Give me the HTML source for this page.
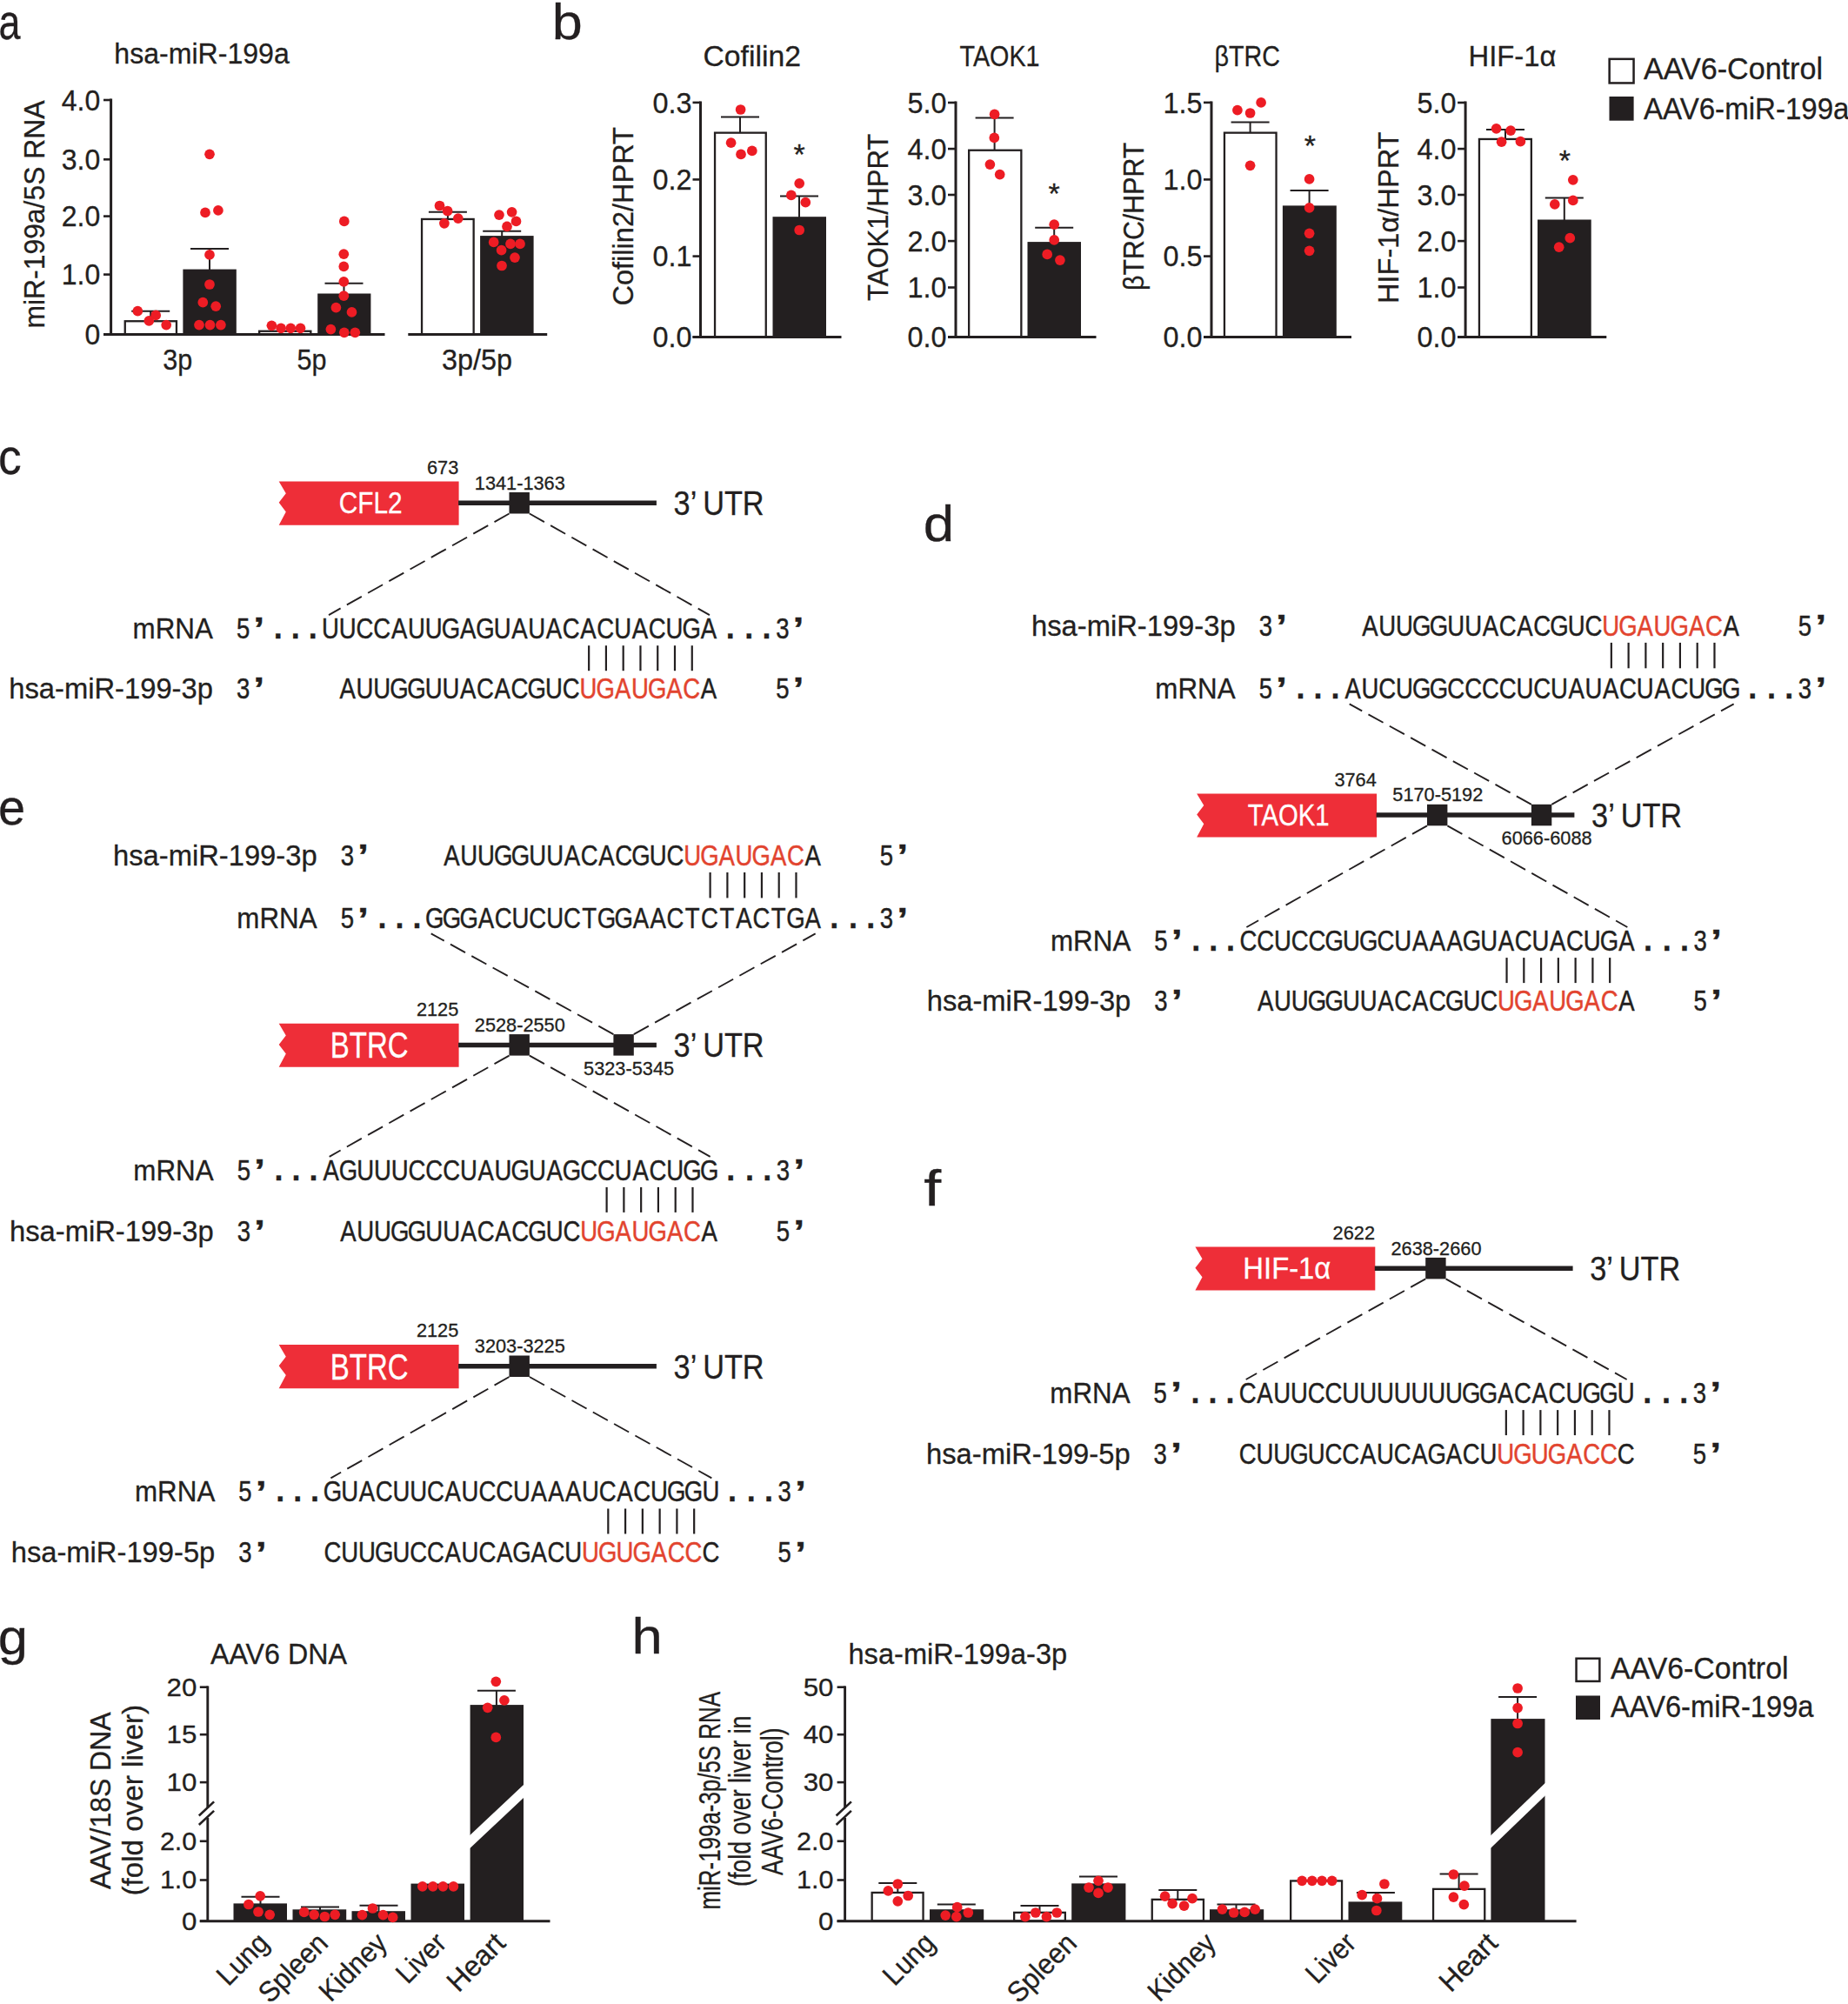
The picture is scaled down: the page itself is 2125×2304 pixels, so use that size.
<!DOCTYPE html>
<html lang="en"><head><meta charset="utf-8"><title>Figure</title>
<style>
html,body{margin:0;padding:0;background:#fff}
body{width:2125px;height:2304px;overflow:hidden}
svg{display:block}
text{font-family:"Liberation Sans", sans-serif;fill:#231f20;stroke:#231f20;stroke-width:.3px}
</style></head><body>
<svg width="2125" height="2304" viewBox="0 0 2125 2304">
<text x="-1.58" y="44.5" font-size="57" textLength="24.94" lengthAdjust="spacingAndGlyphs">a</text>
<text x="131.3" y="72.8" font-size="34" textLength="201.5" lengthAdjust="spacingAndGlyphs">hsa-miR-199a</text>
<line x1="127.6" y1="113.6" x2="127.6" y2="385.8" stroke="#231f20" stroke-width="3"/>
<line x1="119" y1="115" x2="127.6" y2="115" stroke="#231f20" stroke-width="2.6"/>
<text x="70.8" y="126.7" font-size="34" textLength="44.5" lengthAdjust="spacingAndGlyphs">4.0</text>
<line x1="119" y1="183.3" x2="127.6" y2="183.3" stroke="#231f20" stroke-width="2.6"/>
<text x="70.8" y="195" font-size="34" textLength="44.5" lengthAdjust="spacingAndGlyphs">3.0</text>
<line x1="119" y1="248.6" x2="127.6" y2="248.6" stroke="#231f20" stroke-width="2.6"/>
<text x="70.8" y="260.3" font-size="34" textLength="44.5" lengthAdjust="spacingAndGlyphs">2.0</text>
<line x1="119" y1="315.6" x2="127.6" y2="315.6" stroke="#231f20" stroke-width="2.6"/>
<text x="70.8" y="327.3" font-size="34" textLength="44.5" lengthAdjust="spacingAndGlyphs">1.0</text>
<line x1="119" y1="384.4" x2="127.6" y2="384.4" stroke="#231f20" stroke-width="2.6"/>
<text x="97.5" y="396.1" font-size="34" textLength="17.8" lengthAdjust="spacingAndGlyphs">0</text>
<rect x="143.75" y="369.25" width="59.2" height="15" fill="#fff" stroke="#231f20" stroke-width="2.3"/>
<rect x="210.4" y="309.6" width="61.4" height="75.8" fill="#231f20"/>
<rect x="298.15" y="380.75" width="59.2" height="3.5" fill="#fff" stroke="#231f20" stroke-width="2.3"/>
<rect x="365.2" y="337.5" width="61.2" height="47.9" fill="#231f20"/>
<rect x="485.05" y="251.95" width="59.6" height="132.3" fill="#fff" stroke="#231f20" stroke-width="2.3"/>
<rect x="552.1" y="271.1" width="61.5" height="114.3" fill="#231f20"/>
<line x1="119" y1="384.4" x2="442.5" y2="384.4" stroke="#231f20" stroke-width="3"/>
<line x1="469.3" y1="384.4" x2="629.2" y2="384.4" stroke="#231f20" stroke-width="3"/>
<line x1="151.2" y1="357.7" x2="195.2" y2="357.7" stroke="#231f20" stroke-width="2"/>
<line x1="173.2" y1="357.7" x2="173.2" y2="368.1" stroke="#231f20" stroke-width="2"/>
<line x1="219" y1="286" x2="263" y2="286" stroke="#231f20" stroke-width="2"/>
<line x1="241" y1="286" x2="241" y2="310" stroke="#231f20" stroke-width="2"/>
<line x1="373.5" y1="325.8" x2="417.5" y2="325.8" stroke="#231f20" stroke-width="2"/>
<line x1="395.5" y1="325.8" x2="395.5" y2="338" stroke="#231f20" stroke-width="2"/>
<line x1="492.9" y1="243.8" x2="536.9" y2="243.8" stroke="#231f20" stroke-width="2"/>
<line x1="514.9" y1="243.8" x2="514.9" y2="251" stroke="#231f20" stroke-width="2"/>
<line x1="555.2" y1="265.7" x2="599.2" y2="265.7" stroke="#231f20" stroke-width="2"/>
<line x1="577.2" y1="265.7" x2="577.2" y2="272" stroke="#231f20" stroke-width="2"/>
<g fill="#ed1c24"><circle cx="158.3" cy="357.7" r="5.85"/><circle cx="179.2" cy="362.4" r="5.85"/><circle cx="171.3" cy="368.9" r="5.85"/><circle cx="191.2" cy="373.6" r="5.85"/></g>
<g fill="#ed1c24"><circle cx="241" cy="177.3" r="5.85"/><circle cx="236" cy="244.4" r="5.85"/><circle cx="250.9" cy="241.9" r="5.85"/><circle cx="241" cy="292.9" r="5.85"/><circle cx="241" cy="327" r="5.85"/><circle cx="233.3" cy="347.7" r="5.85"/><circle cx="248.2" cy="352.2" r="5.85"/><circle cx="229" cy="373.6" r="5.85"/><circle cx="241.5" cy="373.6" r="5.85"/><circle cx="253.9" cy="373.6" r="5.85"/></g>
<g fill="#ed1c24"><circle cx="312.4" cy="374.3" r="5.85"/><circle cx="323.1" cy="377.3" r="5.85"/><circle cx="334.3" cy="377.3" r="5.85"/><circle cx="345.5" cy="377.3" r="5.85"/></g>
<g fill="#ed1c24"><circle cx="395.8" cy="254.4" r="5.85"/><circle cx="395.3" cy="292.2" r="5.85"/><circle cx="395.3" cy="306.4" r="5.85"/><circle cx="395.3" cy="323.8" r="5.85"/><circle cx="395.3" cy="340.2" r="5.85"/><circle cx="386.4" cy="353.7" r="5.85"/><circle cx="404.5" cy="358.9" r="5.85"/><circle cx="380.4" cy="378.6" r="5.85"/><circle cx="395.8" cy="382.3" r="5.85"/><circle cx="408.3" cy="382.3" r="5.85"/></g>
<g fill="#ed1c24"><circle cx="505.5" cy="236.5" r="5.85"/><circle cx="514.6" cy="242.5" r="5.85"/><circle cx="526.8" cy="251.1" r="5.85"/><circle cx="510.9" cy="256.8" r="5.85"/></g>
<g fill="#ed1c24"><circle cx="574" cy="247.1" r="5.85"/><circle cx="588.6" cy="243.8" r="5.85"/><circle cx="593.5" cy="254.4" r="5.85"/><circle cx="583" cy="260.4" r="5.85"/><circle cx="567.7" cy="278.4" r="5.85"/><circle cx="587" cy="280.4" r="5.85"/><circle cx="598" cy="280.4" r="5.85"/><circle cx="576.6" cy="287.7" r="5.85"/><circle cx="592" cy="296.1" r="5.85"/><circle cx="577" cy="305.5" r="5.85"/></g>
<text x="187.2" y="424.8" font-size="34" textLength="34" lengthAdjust="spacingAndGlyphs">3p</text>
<text x="341.5" y="424.8" font-size="34" textLength="34" lengthAdjust="spacingAndGlyphs">5p</text>
<text x="508" y="425.4" font-size="34" textLength="81" lengthAdjust="spacingAndGlyphs">3p/5p</text>
<text x="0" y="0" font-size="34" textLength="262" lengthAdjust="spacingAndGlyphs" transform="translate(51 377.5) rotate(-90)">miR-199a/5S RNA</text>
<text x="634.81" y="45" font-size="57" textLength="35.01" lengthAdjust="spacingAndGlyphs">b</text>
<text x="808.5" y="75.8" font-size="34" textLength="112.5" lengthAdjust="spacingAndGlyphs">Cofilin2</text>
<line x1="805.5" y1="116.6" x2="805.5" y2="388.8" stroke="#231f20" stroke-width="3"/>
<line x1="796.5" y1="117.9" x2="805.5" y2="117.9" stroke="#231f20" stroke-width="2.6"/>
<text x="750.6" y="129.5" font-size="34" textLength="45" lengthAdjust="spacingAndGlyphs">0.3</text>
<line x1="796.5" y1="206.4" x2="805.5" y2="206.4" stroke="#231f20" stroke-width="2.6"/>
<text x="750.6" y="218" font-size="34" textLength="45" lengthAdjust="spacingAndGlyphs">0.2</text>
<line x1="796.5" y1="294.6" x2="805.5" y2="294.6" stroke="#231f20" stroke-width="2.6"/>
<text x="750.6" y="306.2" font-size="34" textLength="45" lengthAdjust="spacingAndGlyphs">0.1</text>
<line x1="796.5" y1="387.4" x2="805.5" y2="387.4" stroke="#231f20" stroke-width="2.6"/>
<text x="750.6" y="399" font-size="34" textLength="45" lengthAdjust="spacingAndGlyphs">0.0</text>
<rect x="822.05" y="152.65" width="58.7" height="234.6" fill="#fff" stroke="#231f20" stroke-width="2.3"/>
<rect x="888.5" y="249.2" width="61.5" height="139.2" fill="#231f20"/>
<line x1="796.5" y1="387.4" x2="967.5" y2="387.4" stroke="#231f20" stroke-width="3"/>
<line x1="829" y1="134.4" x2="873" y2="134.4" stroke="#231f20" stroke-width="2"/>
<line x1="851" y1="134.4" x2="851" y2="152.5" stroke="#231f20" stroke-width="2"/>
<line x1="897" y1="225.5" x2="941" y2="225.5" stroke="#231f20" stroke-width="2"/>
<line x1="919" y1="225.5" x2="919" y2="250.2" stroke="#231f20" stroke-width="2"/>
<g fill="#ed1c24"><circle cx="851.6" cy="126" r="5.85"/><circle cx="840.6" cy="164.2" r="5.85"/><circle cx="852" cy="177.4" r="5.85"/><circle cx="864.8" cy="173.4" r="5.85"/></g>
<g fill="#ed1c24"><circle cx="919.2" cy="210.8" r="5.85"/><circle cx="909.8" cy="224.4" r="5.85"/><circle cx="926.3" cy="232.7" r="5.85"/><circle cx="919.2" cy="264.5" r="5.85"/></g>
<text x="919" y="189" font-size="34" text-anchor="middle">*</text>
<text x="0" y="0" font-size="34" textLength="205.5" lengthAdjust="spacingAndGlyphs" transform="translate(727.6 351.5) rotate(-90)">Cofilin2/HPRT</text>
<text x="1103.5" y="75.8" font-size="34" textLength="92" lengthAdjust="spacingAndGlyphs">TAOK1</text>
<line x1="1099" y1="116.6" x2="1099" y2="388.8" stroke="#231f20" stroke-width="3"/>
<line x1="1090" y1="118" x2="1099" y2="118" stroke="#231f20" stroke-width="2.6"/>
<text x="1043.5" y="129.6" font-size="34" textLength="45" lengthAdjust="spacingAndGlyphs">5.0</text>
<line x1="1090" y1="171.1" x2="1099" y2="171.1" stroke="#231f20" stroke-width="2.6"/>
<text x="1043.5" y="182.7" font-size="34" textLength="45" lengthAdjust="spacingAndGlyphs">4.0</text>
<line x1="1090" y1="224" x2="1099" y2="224" stroke="#231f20" stroke-width="2.6"/>
<text x="1043.5" y="235.6" font-size="34" textLength="45" lengthAdjust="spacingAndGlyphs">3.0</text>
<line x1="1090" y1="277.1" x2="1099" y2="277.1" stroke="#231f20" stroke-width="2.6"/>
<text x="1043.5" y="288.7" font-size="34" textLength="45" lengthAdjust="spacingAndGlyphs">2.0</text>
<line x1="1090" y1="330.5" x2="1099" y2="330.5" stroke="#231f20" stroke-width="2.6"/>
<text x="1043.5" y="342.1" font-size="34" textLength="45" lengthAdjust="spacingAndGlyphs">1.0</text>
<line x1="1090" y1="387.4" x2="1099" y2="387.4" stroke="#231f20" stroke-width="2.6"/>
<text x="1043.5" y="399" font-size="34" textLength="45" lengthAdjust="spacingAndGlyphs">0.0</text>
<rect x="1114.15" y="172.75" width="60.2" height="214.5" fill="#fff" stroke="#231f20" stroke-width="2.3"/>
<rect x="1181.5" y="278.1" width="61.5" height="110.3" fill="#231f20"/>
<line x1="1090" y1="387.4" x2="1260.5" y2="387.4" stroke="#231f20" stroke-width="3"/>
<line x1="1121.6" y1="135.6" x2="1165.6" y2="135.6" stroke="#231f20" stroke-width="2"/>
<line x1="1143.6" y1="135.6" x2="1143.6" y2="172.6" stroke="#231f20" stroke-width="2"/>
<line x1="1190.2" y1="261.7" x2="1234.2" y2="261.7" stroke="#231f20" stroke-width="2"/>
<line x1="1212.2" y1="261.7" x2="1212.2" y2="279.1" stroke="#231f20" stroke-width="2"/>
<g fill="#ed1c24"><circle cx="1143.6" cy="131.4" r="5.85"/><circle cx="1143.3" cy="158.4" r="5.85"/><circle cx="1138.4" cy="189.1" r="5.85"/><circle cx="1149.7" cy="200.6" r="5.85"/></g>
<g fill="#ed1c24"><circle cx="1212.2" cy="258.2" r="5.85"/><circle cx="1212.2" cy="275.9" r="5.85"/><circle cx="1204.2" cy="292.4" r="5.85"/><circle cx="1218.9" cy="299.1" r="5.85"/></g>
<text x="1212.2" y="233.5" font-size="34" text-anchor="middle">*</text>
<text x="0" y="0" font-size="34" textLength="192.3" lengthAdjust="spacingAndGlyphs" transform="translate(1020.6 346) rotate(-90)">TAOK1/HPRT</text>
<text x="1396.5" y="75.8" font-size="34" textLength="75.5" lengthAdjust="spacingAndGlyphs">βTRC</text>
<line x1="1393" y1="116.6" x2="1393" y2="388.8" stroke="#231f20" stroke-width="3"/>
<line x1="1384" y1="117.9" x2="1393" y2="117.9" stroke="#231f20" stroke-width="2.6"/>
<text x="1337.5" y="129.5" font-size="34" textLength="45" lengthAdjust="spacingAndGlyphs">1.5</text>
<line x1="1384" y1="206.4" x2="1393" y2="206.4" stroke="#231f20" stroke-width="2.6"/>
<text x="1337.5" y="218" font-size="34" textLength="45" lengthAdjust="spacingAndGlyphs">1.0</text>
<line x1="1384" y1="294.6" x2="1393" y2="294.6" stroke="#231f20" stroke-width="2.6"/>
<text x="1337.5" y="306.2" font-size="34" textLength="45" lengthAdjust="spacingAndGlyphs">0.5</text>
<line x1="1384" y1="387.4" x2="1393" y2="387.4" stroke="#231f20" stroke-width="2.6"/>
<text x="1337.5" y="399" font-size="34" textLength="45" lengthAdjust="spacingAndGlyphs">0.0</text>
<rect x="1407.95" y="152.65" width="59.6" height="234.6" fill="#fff" stroke="#231f20" stroke-width="2.3"/>
<rect x="1474.9" y="236.4" width="61.9" height="152" fill="#231f20"/>
<line x1="1384" y1="387.4" x2="1554" y2="387.4" stroke="#231f20" stroke-width="3"/>
<line x1="1415.6" y1="140.5" x2="1459.6" y2="140.5" stroke="#231f20" stroke-width="2"/>
<line x1="1437.6" y1="140.5" x2="1437.6" y2="152.5" stroke="#231f20" stroke-width="2"/>
<line x1="1483.6" y1="218.9" x2="1527.6" y2="218.9" stroke="#231f20" stroke-width="2"/>
<line x1="1505.6" y1="218.9" x2="1505.6" y2="237.4" stroke="#231f20" stroke-width="2"/>
<g fill="#ed1c24"><circle cx="1422.9" cy="126.7" r="5.85"/><circle cx="1437.6" cy="130" r="5.85"/><circle cx="1450.1" cy="117.9" r="5.85"/><circle cx="1437.6" cy="190.3" r="5.85"/></g>
<g fill="#ed1c24"><circle cx="1505.6" cy="205.9" r="5.85"/><circle cx="1505.6" cy="238.9" r="5.85"/><circle cx="1505.6" cy="268.3" r="5.85"/><circle cx="1505.6" cy="288.3" r="5.85"/></g>
<text x="1506.3" y="179.2" font-size="34" text-anchor="middle">*</text>
<text x="0" y="0" font-size="34" textLength="170.4" lengthAdjust="spacingAndGlyphs" transform="translate(1314.8 334) rotate(-90)">βTRC/HPRT</text>
<text x="1688.5" y="75.8" font-size="34" textLength="101" lengthAdjust="spacingAndGlyphs">HIF-1α</text>
<line x1="1685.1" y1="116.6" x2="1685.1" y2="388.8" stroke="#231f20" stroke-width="3"/>
<line x1="1676.1" y1="118" x2="1685.1" y2="118" stroke="#231f20" stroke-width="2.6"/>
<text x="1629.5" y="129.6" font-size="34" textLength="45" lengthAdjust="spacingAndGlyphs">5.0</text>
<line x1="1676.1" y1="171.1" x2="1685.1" y2="171.1" stroke="#231f20" stroke-width="2.6"/>
<text x="1629.5" y="182.7" font-size="34" textLength="45" lengthAdjust="spacingAndGlyphs">4.0</text>
<line x1="1676.1" y1="224" x2="1685.1" y2="224" stroke="#231f20" stroke-width="2.6"/>
<text x="1629.5" y="235.6" font-size="34" textLength="45" lengthAdjust="spacingAndGlyphs">3.0</text>
<line x1="1676.1" y1="277.1" x2="1685.1" y2="277.1" stroke="#231f20" stroke-width="2.6"/>
<text x="1629.5" y="288.7" font-size="34" textLength="45" lengthAdjust="spacingAndGlyphs">2.0</text>
<line x1="1676.1" y1="330.5" x2="1685.1" y2="330.5" stroke="#231f20" stroke-width="2.6"/>
<text x="1629.5" y="342.1" font-size="34" textLength="45" lengthAdjust="spacingAndGlyphs">1.0</text>
<line x1="1676.1" y1="387.4" x2="1685.1" y2="387.4" stroke="#231f20" stroke-width="2.6"/>
<text x="1629.5" y="399" font-size="34" textLength="45" lengthAdjust="spacingAndGlyphs">0.0</text>
<rect x="1700.95" y="159.95" width="59.9" height="227.3" fill="#fff" stroke="#231f20" stroke-width="2.3"/>
<rect x="1768" y="252.5" width="61.7" height="135.9" fill="#231f20"/>
<line x1="1676.1" y1="387.4" x2="1847.3" y2="387.4" stroke="#231f20" stroke-width="3"/>
<line x1="1709" y1="149" x2="1753" y2="149" stroke="#231f20" stroke-width="2"/>
<line x1="1731" y1="149" x2="1731" y2="159.8" stroke="#231f20" stroke-width="2"/>
<line x1="1776.8" y1="227.5" x2="1820.8" y2="227.5" stroke="#231f20" stroke-width="2"/>
<line x1="1798.8" y1="227.5" x2="1798.8" y2="253.5" stroke="#231f20" stroke-width="2"/>
<g fill="#ed1c24"><circle cx="1720.6" cy="147.8" r="5.85"/><circle cx="1737.1" cy="150.1" r="5.85"/><circle cx="1726.6" cy="163.2" r="5.85"/><circle cx="1748.4" cy="162.7" r="5.85"/></g>
<g fill="#ed1c24"><circle cx="1808.8" cy="206.8" r="5.85"/><circle cx="1808.8" cy="230.4" r="5.85"/><circle cx="1787.8" cy="234.9" r="5.85"/><circle cx="1805.3" cy="273.7" r="5.85"/><circle cx="1792.7" cy="284.2" r="5.85"/></g>
<text x="1799.3" y="195.6" font-size="34" text-anchor="middle">*</text>
<text x="0" y="0" font-size="34" textLength="197.5" lengthAdjust="spacingAndGlyphs" transform="translate(1607.7 349) rotate(-90)">HIF-1α/HPRT</text>
<rect x="1850.65" y="67.85" width="27.9" height="27.6" fill="#fff" stroke="#231f20" stroke-width="2.5"/>
<rect x="1850.5" y="111" width="28.1" height="27.7" fill="#231f20"/>
<text x="1890" y="90.8" font-size="34.5" textLength="206" lengthAdjust="spacingAndGlyphs">AAV6-Control</text>
<text x="1890" y="136.5" font-size="34.5" textLength="236.5" lengthAdjust="spacingAndGlyphs">AAV6-miR-199a</text>
<text x="-1.94" y="545.2" font-size="57" textLength="26.68" lengthAdjust="spacingAndGlyphs">c</text>
<polygon points="320.7,553.6 527.6,553.6 527.6,603.7 320.7,603.7 328.8,588.4 320.7,577.8 328.8,567.3" fill="#ee2e38"/>
<text x="426.15" y="589.8" font-size="35.5" text-anchor="middle" textLength="73" lengthAdjust="spacingAndGlyphs" style="fill:#fff;stroke:#fff">CFL2</text>
<line x1="527.1" y1="578.3" x2="754.9" y2="578.3" stroke="#231f20" stroke-width="5.5"/>
<rect x="585.5" y="566" width="23.4" height="24.5" fill="#231f20"/>
<text x="527.3" y="544.9" font-size="22" text-anchor="end" textLength="36.3" lengthAdjust="spacingAndGlyphs">673</text>
<text x="597.8" y="562.6" font-size="22" text-anchor="middle" textLength="104" lengthAdjust="spacingAndGlyphs">1341-1363</text>
<text x="774.6" y="592" font-size="38" textLength="104" lengthAdjust="spacingAndGlyphs">3’ UTR</text>
<text x="244.9" y="734.1" font-size="32.8" text-anchor="end" textLength="92.3" lengthAdjust="spacingAndGlyphs">mRNA</text>
<text transform="scale(0.84 1)" x="332.86" y="734.1" font-size="32.8" text-anchor="middle" style="stroke-width:.45px">5</text>
<text x="297.8" y="736.4" font-size="37" text-anchor="middle" textLength="13" lengthAdjust="spacingAndGlyphs" font-weight="bold">’</text>
<text x="319.8 339.8 359.7" y="734.1" font-size="36" font-weight="bold" text-anchor="middle">...</text>
<text transform="scale(0.84 1)" x="452.38 475.92 499.45 522.99 546.52 570.06 593.6 617.13 640.67 664.2 687.74 711.27 734.81 758.35 781.88 805.42 828.95 852.49 876.02 899.56 923.1 946.63 970.17" y="734.1" font-size="32.8" text-anchor="middle" style="stroke-width:.45px">UUCCAUUGAGUAUACACUACUGA</text>
<text x="839.64 861.24 881.54" y="734.1" font-size="36" font-weight="bold" text-anchor="middle">...</text>
<text transform="scale(0.84 1)" x="1071.24" y="734.1" font-size="32.8" text-anchor="middle" style="stroke-width:.45px">3</text>
<text x="918.04" y="736.4" font-size="37" text-anchor="middle" textLength="13" lengthAdjust="spacingAndGlyphs" font-weight="bold">’</text>
<text x="244.9" y="803.1" font-size="32.8" text-anchor="end" textLength="234.6" lengthAdjust="spacingAndGlyphs">hsa-miR-199-3p</text>
<text transform="scale(0.84 1)" x="332.86" y="803.1" font-size="32.8" text-anchor="middle" style="stroke-width:.45px">3</text>
<text x="297.8" y="805.4" font-size="37" text-anchor="middle" textLength="13" lengthAdjust="spacingAndGlyphs" font-weight="bold">’</text>
<text transform="scale(0.84 1)" x="475.92 499.45 522.99 546.52 570.06 593.6 617.13 640.67 664.2 687.74 711.27 734.81 758.35 781.88" y="803.1" font-size="32.8" text-anchor="middle" style="stroke-width:.45px">AUUGGUUACACGUC</text>
<text transform="scale(0.84 1)" x="805.42 828.95 852.49 876.02 899.56 923.1 946.63" y="803.1" font-size="32.8" text-anchor="middle" style="fill:#e2442f;stroke:#e2442f;stroke-width:.45px">UGAUGAC</text>
<text transform="scale(0.84 1)" x="970.17" y="803.1" font-size="32.8" text-anchor="middle" style="stroke-width:.45px">A</text>
<text transform="scale(0.84 1)" x="1071.24" y="803.1" font-size="32.8" text-anchor="middle" style="stroke-width:.45px">5</text>
<text x="918.04" y="805.4" font-size="37" text-anchor="middle" textLength="13" lengthAdjust="spacingAndGlyphs" font-weight="bold">’</text>
<line x1="677.15" y1="742.2" x2="677.15" y2="771.2" stroke="#231f20" stroke-width="2.2"/>
<line x1="696.92" y1="742.2" x2="696.92" y2="771.2" stroke="#231f20" stroke-width="2.2"/>
<line x1="716.69" y1="742.2" x2="716.69" y2="771.2" stroke="#231f20" stroke-width="2.2"/>
<line x1="736.46" y1="742.2" x2="736.46" y2="771.2" stroke="#231f20" stroke-width="2.2"/>
<line x1="756.23" y1="742.2" x2="756.23" y2="771.2" stroke="#231f20" stroke-width="2.2"/>
<line x1="776" y1="742.2" x2="776" y2="771.2" stroke="#231f20" stroke-width="2.2"/>
<line x1="795.77" y1="742.2" x2="795.77" y2="771.2" stroke="#231f20" stroke-width="2.2"/>
<line x1="585.5" y1="590.5" x2="378" y2="707.1" stroke="#231f20" stroke-width="1.9" stroke-dasharray="19.5 8.3"/>
<line x1="608.9" y1="590.5" x2="815.94" y2="707.1" stroke="#231f20" stroke-width="1.9" stroke-dasharray="19.5 8.3"/>
<text x="1061.72" y="622.4" font-size="57" textLength="35.43" lengthAdjust="spacingAndGlyphs">d</text>
<polygon points="1376.2,912.4 1583.1,912.4 1583.1,962.5 1376.2,962.5 1384.3,947.2 1376.2,936.6 1384.3,926.1" fill="#ee2e38"/>
<text x="1481.65" y="948.6" font-size="35.5" text-anchor="middle" textLength="94" lengthAdjust="spacingAndGlyphs" style="fill:#fff;stroke:#fff">TAOK1</text>
<line x1="1582.6" y1="937.1" x2="1810.4" y2="937.1" stroke="#231f20" stroke-width="5.5"/>
<rect x="1641" y="924.8" width="23.4" height="24.5" fill="#231f20"/>
<rect x="1760.9" y="924.8" width="23.4" height="24.5" fill="#231f20"/>
<text x="1582.8" y="903.7" font-size="22" text-anchor="end" textLength="48.4" lengthAdjust="spacingAndGlyphs">3764</text>
<text x="1653.3" y="921.4" font-size="22" text-anchor="middle" textLength="104" lengthAdjust="spacingAndGlyphs">5170-5192</text>
<text x="1778.6" y="971.4" font-size="22" text-anchor="middle" textLength="104" lengthAdjust="spacingAndGlyphs">6066-6088</text>
<text x="1830.1" y="950.8" font-size="38" textLength="104" lengthAdjust="spacingAndGlyphs">3’ UTR</text>
<text x="1420.6" y="730.8" font-size="32.8" text-anchor="end" textLength="234.6" lengthAdjust="spacingAndGlyphs">hsa-miR-199-3p</text>
<text transform="scale(0.84 1)" x="1732.5" y="730.8" font-size="32.8" text-anchor="middle" style="stroke-width:.45px">3</text>
<text x="1473.5" y="733.1" font-size="37" text-anchor="middle" textLength="13" lengthAdjust="spacingAndGlyphs" font-weight="bold">’</text>
<text transform="scale(0.84 1)" x="1875.56 1899.1 1922.63 1946.17 1969.7 1993.24 2016.77 2040.31 2063.85 2087.38 2110.92 2134.45 2157.99 2181.52" y="730.8" font-size="32.8" text-anchor="middle" style="stroke-width:.45px">AUUGGUUACACGUC</text>
<text transform="scale(0.84 1)" x="2205.06 2228.6 2252.13 2275.67 2299.2 2322.74 2346.27" y="730.8" font-size="32.8" text-anchor="middle" style="fill:#e2442f;stroke:#e2442f;stroke-width:.45px">UGAUGAC</text>
<text transform="scale(0.84 1)" x="2369.81" y="730.8" font-size="32.8" text-anchor="middle" style="stroke-width:.45px">A</text>
<text transform="scale(0.84 1)" x="2470.88" y="730.8" font-size="32.8" text-anchor="middle" style="stroke-width:.45px">5</text>
<text x="2093.74" y="733.1" font-size="37" text-anchor="middle" textLength="13" lengthAdjust="spacingAndGlyphs" font-weight="bold">’</text>
<text x="1420.6" y="803.1" font-size="32.8" text-anchor="end" textLength="92.3" lengthAdjust="spacingAndGlyphs">mRNA</text>
<text transform="scale(0.84 1)" x="1732.5" y="803.1" font-size="32.8" text-anchor="middle" style="stroke-width:.45px">5</text>
<text x="1473.5" y="805.4" font-size="37" text-anchor="middle" textLength="13" lengthAdjust="spacingAndGlyphs" font-weight="bold">’</text>
<text x="1495.5 1515.5 1535.4" y="803.1" font-size="36" font-weight="bold" text-anchor="middle">...</text>
<text transform="scale(0.84 1)" x="1852.02 1875.56 1899.1 1922.63 1946.17 1969.7 1993.24 2016.77 2040.31 2063.85 2087.38 2110.92 2134.45 2157.99 2181.52 2205.06 2228.6 2252.13 2275.67 2299.2 2322.74 2346.27 2369.81" y="803.1" font-size="32.8" text-anchor="middle" style="stroke-width:.45px">AUCUGGCCCCUCUAUACUACUGG</text>
<text x="2015.34 2036.94 2057.24" y="803.1" font-size="36" font-weight="bold" text-anchor="middle">...</text>
<text transform="scale(0.84 1)" x="2470.88" y="803.1" font-size="32.8" text-anchor="middle" style="stroke-width:.45px">3</text>
<text x="2093.74" y="805.4" font-size="37" text-anchor="middle" textLength="13" lengthAdjust="spacingAndGlyphs" font-weight="bold">’</text>
<line x1="1852.85" y1="738.9" x2="1852.85" y2="768.3" stroke="#231f20" stroke-width="2.2"/>
<line x1="1872.62" y1="738.9" x2="1872.62" y2="768.3" stroke="#231f20" stroke-width="2.2"/>
<line x1="1892.39" y1="738.9" x2="1892.39" y2="768.3" stroke="#231f20" stroke-width="2.2"/>
<line x1="1912.16" y1="738.9" x2="1912.16" y2="768.3" stroke="#231f20" stroke-width="2.2"/>
<line x1="1931.93" y1="738.9" x2="1931.93" y2="768.3" stroke="#231f20" stroke-width="2.2"/>
<line x1="1951.7" y1="738.9" x2="1951.7" y2="768.3" stroke="#231f20" stroke-width="2.2"/>
<line x1="1971.47" y1="738.9" x2="1971.47" y2="768.3" stroke="#231f20" stroke-width="2.2"/>
<line x1="1760.9" y1="924.8" x2="1551.7" y2="809.3" stroke="#231f20" stroke-width="1.9" stroke-dasharray="19.5 8.3"/>
<line x1="1784.3" y1="924.8" x2="1993.64" y2="809.3" stroke="#231f20" stroke-width="1.9" stroke-dasharray="19.5 8.3"/>
<text x="1300.3" y="1093" font-size="32.8" text-anchor="end" textLength="92.3" lengthAdjust="spacingAndGlyphs">mRNA</text>
<text transform="scale(0.84 1)" x="1589.29" y="1093" font-size="32.8" text-anchor="middle" style="stroke-width:.45px">5</text>
<text x="1353.2" y="1095.3" font-size="37" text-anchor="middle" textLength="13" lengthAdjust="spacingAndGlyphs" font-weight="bold">’</text>
<text x="1375.2 1395.2 1415.1" y="1093" font-size="36" font-weight="bold" text-anchor="middle">...</text>
<text transform="scale(0.84 1)" x="1708.81 1732.35 1755.88 1779.42 1802.95 1826.49 1850.02 1873.56 1897.1 1920.63 1944.17 1967.7 1991.24 2014.77 2038.31 2061.85 2085.38 2108.92 2132.45 2155.99 2179.52 2203.06 2226.6" y="1093" font-size="32.8" text-anchor="middle" style="stroke-width:.45px">CCUCCGUGCUAAAGUACUACUGA</text>
<text x="1895.04 1916.64 1936.94" y="1093" font-size="36" font-weight="bold" text-anchor="middle">...</text>
<text transform="scale(0.84 1)" x="2327.67" y="1093" font-size="32.8" text-anchor="middle" style="stroke-width:.45px">3</text>
<text x="1973.44" y="1095.3" font-size="37" text-anchor="middle" textLength="13" lengthAdjust="spacingAndGlyphs" font-weight="bold">’</text>
<text x="1300.3" y="1161.7" font-size="32.8" text-anchor="end" textLength="234.6" lengthAdjust="spacingAndGlyphs">hsa-miR-199-3p</text>
<text transform="scale(0.84 1)" x="1589.29" y="1161.7" font-size="32.8" text-anchor="middle" style="stroke-width:.45px">3</text>
<text x="1353.2" y="1164" font-size="37" text-anchor="middle" textLength="13" lengthAdjust="spacingAndGlyphs" font-weight="bold">’</text>
<text transform="scale(0.84 1)" x="1732.35 1755.88 1779.42 1802.95 1826.49 1850.02 1873.56 1897.1 1920.63 1944.17 1967.7 1991.24 2014.77 2038.31" y="1161.7" font-size="32.8" text-anchor="middle" style="stroke-width:.45px">AUUGGUUACACGUC</text>
<text transform="scale(0.84 1)" x="2061.85 2085.38 2108.92 2132.45 2155.99 2179.52 2203.06" y="1161.7" font-size="32.8" text-anchor="middle" style="fill:#e2442f;stroke:#e2442f;stroke-width:.45px">UGAUGAC</text>
<text transform="scale(0.84 1)" x="2226.6" y="1161.7" font-size="32.8" text-anchor="middle" style="stroke-width:.45px">A</text>
<text transform="scale(0.84 1)" x="2327.67" y="1161.7" font-size="32.8" text-anchor="middle" style="stroke-width:.45px">5</text>
<text x="1973.44" y="1164" font-size="37" text-anchor="middle" textLength="13" lengthAdjust="spacingAndGlyphs" font-weight="bold">’</text>
<line x1="1732.55" y1="1101.1" x2="1732.55" y2="1130.1" stroke="#231f20" stroke-width="2.2"/>
<line x1="1752.32" y1="1101.1" x2="1752.32" y2="1130.1" stroke="#231f20" stroke-width="2.2"/>
<line x1="1772.09" y1="1101.1" x2="1772.09" y2="1130.1" stroke="#231f20" stroke-width="2.2"/>
<line x1="1791.86" y1="1101.1" x2="1791.86" y2="1130.1" stroke="#231f20" stroke-width="2.2"/>
<line x1="1811.63" y1="1101.1" x2="1811.63" y2="1130.1" stroke="#231f20" stroke-width="2.2"/>
<line x1="1831.4" y1="1101.1" x2="1831.4" y2="1130.1" stroke="#231f20" stroke-width="2.2"/>
<line x1="1851.17" y1="1101.1" x2="1851.17" y2="1130.1" stroke="#231f20" stroke-width="2.2"/>
<line x1="1641" y1="949.3" x2="1433.4" y2="1066" stroke="#231f20" stroke-width="1.9" stroke-dasharray="19.5 8.3"/>
<line x1="1664.4" y1="949.3" x2="1871.34" y2="1066" stroke="#231f20" stroke-width="1.9" stroke-dasharray="19.5 8.3"/>
<text x="-2.05" y="948" font-size="57" textLength="31.07" lengthAdjust="spacingAndGlyphs">e</text>
<polygon points="320.7,1176.7 527.6,1176.7 527.6,1226.8 320.7,1226.8 328.8,1211.5 320.7,1200.9 328.8,1190.4" fill="#ee2e38"/>
<text x="424.65" y="1216.2" font-size="42" text-anchor="middle" textLength="90" lengthAdjust="spacingAndGlyphs" style="fill:#fff;stroke:#fff">BTRC</text>
<line x1="527.1" y1="1201.4" x2="754.9" y2="1201.4" stroke="#231f20" stroke-width="5.5"/>
<rect x="585.5" y="1189.1" width="23.4" height="24.5" fill="#231f20"/>
<rect x="705.4" y="1189.1" width="23.4" height="24.5" fill="#231f20"/>
<text x="527.3" y="1168" font-size="22" text-anchor="end" textLength="48.4" lengthAdjust="spacingAndGlyphs">2125</text>
<text x="597.8" y="1185.7" font-size="22" text-anchor="middle" textLength="104" lengthAdjust="spacingAndGlyphs">2528-2550</text>
<text x="723.1" y="1235.7" font-size="22" text-anchor="middle" textLength="104" lengthAdjust="spacingAndGlyphs">5323-5345</text>
<text x="774.6" y="1215.1" font-size="38" textLength="104" lengthAdjust="spacingAndGlyphs">3’ UTR</text>
<text x="364.6" y="994.9" font-size="32.8" text-anchor="end" textLength="234.6" lengthAdjust="spacingAndGlyphs">hsa-miR-199-3p</text>
<text transform="scale(0.84 1)" x="475.36" y="994.9" font-size="32.8" text-anchor="middle" style="stroke-width:.45px">3</text>
<text x="417.5" y="997.2" font-size="37" text-anchor="middle" textLength="13" lengthAdjust="spacingAndGlyphs" font-weight="bold">’</text>
<text transform="scale(0.84 1)" x="618.42 641.95 665.49 689.02 712.56 736.1 759.63 783.17 806.7 830.24 853.77 877.31 900.85 924.38" y="994.9" font-size="32.8" text-anchor="middle" style="stroke-width:.45px">AUUGGUUACACGUC</text>
<text transform="scale(0.84 1)" x="947.92 971.45 994.99 1018.52 1042.06 1065.6 1089.13" y="994.9" font-size="32.8" text-anchor="middle" style="fill:#e2442f;stroke:#e2442f;stroke-width:.45px">UGAUGAC</text>
<text transform="scale(0.84 1)" x="1112.67" y="994.9" font-size="32.8" text-anchor="middle" style="stroke-width:.45px">A</text>
<text transform="scale(0.84 1)" x="1213.74" y="994.9" font-size="32.8" text-anchor="middle" style="stroke-width:.45px">5</text>
<text x="1037.74" y="997.2" font-size="37" text-anchor="middle" textLength="13" lengthAdjust="spacingAndGlyphs" font-weight="bold">’</text>
<text x="364.6" y="1067.2" font-size="32.8" text-anchor="end" textLength="92.3" lengthAdjust="spacingAndGlyphs">mRNA</text>
<text transform="scale(0.84 1)" x="475.36" y="1067.2" font-size="32.8" text-anchor="middle" style="stroke-width:.45px">5</text>
<text x="417.5" y="1069.5" font-size="37" text-anchor="middle" textLength="13" lengthAdjust="spacingAndGlyphs" font-weight="bold">’</text>
<text x="439.5 459.5 479.4" y="1067.2" font-size="36" font-weight="bold" text-anchor="middle">...</text>
<text transform="scale(0.84 1)" x="594.88 618.42 641.95 665.49 689.02 712.56 736.1 759.63 783.17 806.7 830.24 853.77 877.31 900.85 924.38 947.92 971.45 994.99 1018.52 1042.06 1065.6 1089.13 1112.67" y="1067.2" font-size="32.8" text-anchor="middle" style="stroke-width:.45px">GGGACUCUCTGGAACTCTACTGA</text>
<text x="959.34 980.94 1001.24" y="1067.2" font-size="36" font-weight="bold" text-anchor="middle">...</text>
<text transform="scale(0.84 1)" x="1213.74" y="1067.2" font-size="32.8" text-anchor="middle" style="stroke-width:.45px">3</text>
<text x="1037.74" y="1069.5" font-size="37" text-anchor="middle" textLength="13" lengthAdjust="spacingAndGlyphs" font-weight="bold">’</text>
<line x1="816.62" y1="1003" x2="816.62" y2="1032.4" stroke="#231f20" stroke-width="2.2"/>
<line x1="836.39" y1="1003" x2="836.39" y2="1032.4" stroke="#231f20" stroke-width="2.2"/>
<line x1="856.16" y1="1003" x2="856.16" y2="1032.4" stroke="#231f20" stroke-width="2.2"/>
<line x1="875.93" y1="1003" x2="875.93" y2="1032.4" stroke="#231f20" stroke-width="2.2"/>
<line x1="895.7" y1="1003" x2="895.7" y2="1032.4" stroke="#231f20" stroke-width="2.2"/>
<line x1="915.47" y1="1003" x2="915.47" y2="1032.4" stroke="#231f20" stroke-width="2.2"/>
<line x1="705.4" y1="1189.1" x2="495.7" y2="1073.4" stroke="#231f20" stroke-width="1.9" stroke-dasharray="19.5 8.3"/>
<line x1="728.8" y1="1189.1" x2="937.64" y2="1073.4" stroke="#231f20" stroke-width="1.9" stroke-dasharray="19.5 8.3"/>
<text x="245.6" y="1356.8" font-size="32.8" text-anchor="end" textLength="92.3" lengthAdjust="spacingAndGlyphs">mRNA</text>
<text transform="scale(0.84 1)" x="333.69" y="1356.8" font-size="32.8" text-anchor="middle" style="stroke-width:.45px">5</text>
<text x="298.5" y="1359.1" font-size="37" text-anchor="middle" textLength="13" lengthAdjust="spacingAndGlyphs" font-weight="bold">’</text>
<text x="320.5 340.5 360.4" y="1356.8" font-size="36" font-weight="bold" text-anchor="middle">...</text>
<text transform="scale(0.84 1)" x="453.21 476.75 500.29 523.82 547.36 570.89 594.43 617.96 641.5 665.04 688.57 712.11 735.64 759.18 782.71 806.25 829.79 853.32 876.86 900.39 923.93 947.46 971" y="1356.8" font-size="32.8" text-anchor="middle" style="stroke-width:.45px">AGUUUCCCUAUGUAGCCUACUGG</text>
<text x="840.34 861.94 882.24" y="1356.8" font-size="36" font-weight="bold" text-anchor="middle">...</text>
<text transform="scale(0.84 1)" x="1072.07" y="1356.8" font-size="32.8" text-anchor="middle" style="stroke-width:.45px">3</text>
<text x="918.74" y="1359.1" font-size="37" text-anchor="middle" textLength="13" lengthAdjust="spacingAndGlyphs" font-weight="bold">’</text>
<text x="245.6" y="1426.8" font-size="32.8" text-anchor="end" textLength="234.6" lengthAdjust="spacingAndGlyphs">hsa-miR-199-3p</text>
<text transform="scale(0.84 1)" x="333.69" y="1426.8" font-size="32.8" text-anchor="middle" style="stroke-width:.45px">3</text>
<text x="298.5" y="1429.1" font-size="37" text-anchor="middle" textLength="13" lengthAdjust="spacingAndGlyphs" font-weight="bold">’</text>
<text transform="scale(0.84 1)" x="476.75 500.29 523.82 547.36 570.89 594.43 617.96 641.5 665.04 688.57 712.11 735.64 759.18 782.71" y="1426.8" font-size="32.8" text-anchor="middle" style="stroke-width:.45px">AUUGGUUACACGUC</text>
<text transform="scale(0.84 1)" x="806.25 829.79 853.32 876.86 900.39 923.93 947.46" y="1426.8" font-size="32.8" text-anchor="middle" style="fill:#e2442f;stroke:#e2442f;stroke-width:.45px">UGAUGAC</text>
<text transform="scale(0.84 1)" x="971" y="1426.8" font-size="32.8" text-anchor="middle" style="stroke-width:.45px">A</text>
<text transform="scale(0.84 1)" x="1072.07" y="1426.8" font-size="32.8" text-anchor="middle" style="stroke-width:.45px">5</text>
<text x="918.74" y="1429.1" font-size="37" text-anchor="middle" textLength="13" lengthAdjust="spacingAndGlyphs" font-weight="bold">’</text>
<line x1="697.62" y1="1364.9" x2="697.62" y2="1393.9" stroke="#231f20" stroke-width="2.2"/>
<line x1="717.39" y1="1364.9" x2="717.39" y2="1393.9" stroke="#231f20" stroke-width="2.2"/>
<line x1="737.16" y1="1364.9" x2="737.16" y2="1393.9" stroke="#231f20" stroke-width="2.2"/>
<line x1="756.93" y1="1364.9" x2="756.93" y2="1393.9" stroke="#231f20" stroke-width="2.2"/>
<line x1="776.7" y1="1364.9" x2="776.7" y2="1393.9" stroke="#231f20" stroke-width="2.2"/>
<line x1="796.47" y1="1364.9" x2="796.47" y2="1393.9" stroke="#231f20" stroke-width="2.2"/>
<line x1="585.5" y1="1213.6" x2="378.7" y2="1329.8" stroke="#231f20" stroke-width="1.9" stroke-dasharray="19.5 8.3"/>
<line x1="608.9" y1="1213.6" x2="816.64" y2="1329.8" stroke="#231f20" stroke-width="1.9" stroke-dasharray="19.5 8.3"/>
<polygon points="320.7,1546.1 527.6,1546.1 527.6,1596.2 320.7,1596.2 328.8,1580.9 320.7,1570.3 328.8,1559.8" fill="#ee2e38"/>
<text x="424.65" y="1585.6" font-size="42" text-anchor="middle" textLength="90" lengthAdjust="spacingAndGlyphs" style="fill:#fff;stroke:#fff">BTRC</text>
<line x1="527.1" y1="1570.8" x2="754.9" y2="1570.8" stroke="#231f20" stroke-width="5.5"/>
<rect x="585.5" y="1558.5" width="23.4" height="24.5" fill="#231f20"/>
<text x="527.3" y="1537.4" font-size="22" text-anchor="end" textLength="48.4" lengthAdjust="spacingAndGlyphs">2125</text>
<text x="597.8" y="1555.1" font-size="22" text-anchor="middle" textLength="104" lengthAdjust="spacingAndGlyphs">3203-3225</text>
<text x="774.6" y="1584.5" font-size="38" textLength="104" lengthAdjust="spacingAndGlyphs">3’ UTR</text>
<text x="247.3" y="1726.4" font-size="32.8" text-anchor="end" textLength="92.3" lengthAdjust="spacingAndGlyphs">mRNA</text>
<text transform="scale(0.84 1)" x="335.71" y="1726.4" font-size="32.8" text-anchor="middle" style="stroke-width:.45px">5</text>
<text x="300.2" y="1728.7" font-size="37" text-anchor="middle" textLength="13" lengthAdjust="spacingAndGlyphs" font-weight="bold">’</text>
<text x="322.2 342.2 362.1" y="1726.4" font-size="36" font-weight="bold" text-anchor="middle">...</text>
<text transform="scale(0.84 1)" x="455.24 478.77 502.31 525.85 549.38 572.92 596.45 619.99 643.52 667.06 690.6 714.13 737.67 761.2 784.74 808.27 831.81 855.35 878.88 902.42 925.95 949.49 973.02" y="1726.4" font-size="32.8" text-anchor="middle" style="stroke-width:.45px">GUACUUCAUCCUAAAUCACUGGU</text>
<text x="842.04 863.64 883.94" y="1726.4" font-size="36" font-weight="bold" text-anchor="middle">...</text>
<text transform="scale(0.84 1)" x="1074.1" y="1726.4" font-size="32.8" text-anchor="middle" style="stroke-width:.45px">3</text>
<text x="920.44" y="1728.7" font-size="37" text-anchor="middle" textLength="13" lengthAdjust="spacingAndGlyphs" font-weight="bold">’</text>
<text x="247.3" y="1796.3" font-size="32.8" text-anchor="end" textLength="234.6" lengthAdjust="spacingAndGlyphs">hsa-miR-199-5p</text>
<text transform="scale(0.84 1)" x="335.71" y="1796.3" font-size="32.8" text-anchor="middle" style="stroke-width:.45px">3</text>
<text x="300.2" y="1798.6" font-size="37" text-anchor="middle" textLength="13" lengthAdjust="spacingAndGlyphs" font-weight="bold">’</text>
<text transform="scale(0.84 1)" x="455.24 478.77 502.31 525.85 549.38 572.92 596.45 619.99 643.52 667.06 690.6 714.13 737.67 761.2 784.74" y="1796.3" font-size="32.8" text-anchor="middle" style="stroke-width:.45px">CUUGUCCAUCAGACU</text>
<text transform="scale(0.84 1)" x="808.27 831.81 855.35 878.88 902.42 925.95 949.49" y="1796.3" font-size="32.8" text-anchor="middle" style="fill:#e2442f;stroke:#e2442f;stroke-width:.45px">UGUGACC</text>
<text transform="scale(0.84 1)" x="973.02" y="1796.3" font-size="32.8" text-anchor="middle" style="stroke-width:.45px">C</text>
<text transform="scale(0.84 1)" x="1074.1" y="1796.3" font-size="32.8" text-anchor="middle" style="stroke-width:.45px">5</text>
<text x="920.44" y="1798.6" font-size="37" text-anchor="middle" textLength="13" lengthAdjust="spacingAndGlyphs" font-weight="bold">’</text>
<line x1="699.32" y1="1734.5" x2="699.32" y2="1763.5" stroke="#231f20" stroke-width="2.2"/>
<line x1="719.09" y1="1734.5" x2="719.09" y2="1763.5" stroke="#231f20" stroke-width="2.2"/>
<line x1="738.86" y1="1734.5" x2="738.86" y2="1763.5" stroke="#231f20" stroke-width="2.2"/>
<line x1="758.63" y1="1734.5" x2="758.63" y2="1763.5" stroke="#231f20" stroke-width="2.2"/>
<line x1="778.4" y1="1734.5" x2="778.4" y2="1763.5" stroke="#231f20" stroke-width="2.2"/>
<line x1="798.17" y1="1734.5" x2="798.17" y2="1763.5" stroke="#231f20" stroke-width="2.2"/>
<line x1="585.5" y1="1583" x2="380.4" y2="1699.4" stroke="#231f20" stroke-width="1.9" stroke-dasharray="19.5 8.3"/>
<line x1="608.9" y1="1583" x2="818.34" y2="1699.4" stroke="#231f20" stroke-width="1.9" stroke-dasharray="19.5 8.3"/>
<text x="1062.3" y="1386.1" font-size="57" textLength="19.89" lengthAdjust="spacingAndGlyphs">f</text>
<polygon points="1374.4,1433.5 1581.3,1433.5 1581.3,1483.6 1374.4,1483.6 1382.5,1468.3 1374.4,1457.7 1382.5,1447.2" fill="#ee2e38"/>
<text x="1479.85" y="1469.7" font-size="35.5" text-anchor="middle" textLength="101" lengthAdjust="spacingAndGlyphs" style="fill:#fff;stroke:#fff">HIF-1α</text>
<line x1="1580.8" y1="1458.2" x2="1808.6" y2="1458.2" stroke="#231f20" stroke-width="5.5"/>
<rect x="1639.2" y="1445.9" width="23.4" height="24.5" fill="#231f20"/>
<text x="1581" y="1424.8" font-size="22" text-anchor="end" textLength="48.4" lengthAdjust="spacingAndGlyphs">2622</text>
<text x="1651.5" y="1442.5" font-size="22" text-anchor="middle" textLength="104" lengthAdjust="spacingAndGlyphs">2638-2660</text>
<text x="1828.3" y="1471.9" font-size="38" textLength="104" lengthAdjust="spacingAndGlyphs">3’ UTR</text>
<text x="1299.6" y="1613" font-size="32.8" text-anchor="end" textLength="92.3" lengthAdjust="spacingAndGlyphs">mRNA</text>
<text transform="scale(0.84 1)" x="1588.45" y="1613" font-size="32.8" text-anchor="middle" style="stroke-width:.45px">5</text>
<text x="1352.5" y="1615.3" font-size="37" text-anchor="middle" textLength="13" lengthAdjust="spacingAndGlyphs" font-weight="bold">’</text>
<text x="1374.5 1394.5 1414.4" y="1613" font-size="36" font-weight="bold" text-anchor="middle">...</text>
<text transform="scale(0.84 1)" x="1707.98 1731.51 1755.05 1778.58 1802.12 1825.65 1849.19 1872.73 1896.26 1919.8 1943.33 1966.87 1990.4 2013.94 2037.48 2061.01 2084.55 2108.08 2131.62 2155.15 2178.69 2202.23 2225.76" y="1613" font-size="32.8" text-anchor="middle" style="stroke-width:.45px">CAUUCCUUUUUUUGGACACUGGU</text>
<text x="1894.34 1915.94 1936.24" y="1613" font-size="36" font-weight="bold" text-anchor="middle">...</text>
<text transform="scale(0.84 1)" x="2326.83" y="1613" font-size="32.8" text-anchor="middle" style="stroke-width:.45px">3</text>
<text x="1972.74" y="1615.3" font-size="37" text-anchor="middle" textLength="13" lengthAdjust="spacingAndGlyphs" font-weight="bold">’</text>
<text x="1299.6" y="1683.1" font-size="32.8" text-anchor="end" textLength="234.6" lengthAdjust="spacingAndGlyphs">hsa-miR-199-5p</text>
<text transform="scale(0.84 1)" x="1588.45" y="1683.1" font-size="32.8" text-anchor="middle" style="stroke-width:.45px">3</text>
<text x="1352.5" y="1685.4" font-size="37" text-anchor="middle" textLength="13" lengthAdjust="spacingAndGlyphs" font-weight="bold">’</text>
<text transform="scale(0.84 1)" x="1707.98 1731.51 1755.05 1778.58 1802.12 1825.65 1849.19 1872.73 1896.26 1919.8 1943.33 1966.87 1990.4 2013.94 2037.48" y="1683.1" font-size="32.8" text-anchor="middle" style="stroke-width:.45px">CUUGUCCAUCAGACU</text>
<text transform="scale(0.84 1)" x="2061.01 2084.55 2108.08 2131.62 2155.15 2178.69 2202.23" y="1683.1" font-size="32.8" text-anchor="middle" style="fill:#e2442f;stroke:#e2442f;stroke-width:.45px">UGUGACC</text>
<text transform="scale(0.84 1)" x="2225.76" y="1683.1" font-size="32.8" text-anchor="middle" style="stroke-width:.45px">C</text>
<text transform="scale(0.84 1)" x="2326.83" y="1683.1" font-size="32.8" text-anchor="middle" style="stroke-width:.45px">5</text>
<text x="1972.74" y="1685.4" font-size="37" text-anchor="middle" textLength="13" lengthAdjust="spacingAndGlyphs" font-weight="bold">’</text>
<line x1="1731.85" y1="1621.1" x2="1731.85" y2="1650.1" stroke="#231f20" stroke-width="2.2"/>
<line x1="1751.62" y1="1621.1" x2="1751.62" y2="1650.1" stroke="#231f20" stroke-width="2.2"/>
<line x1="1771.39" y1="1621.1" x2="1771.39" y2="1650.1" stroke="#231f20" stroke-width="2.2"/>
<line x1="1791.16" y1="1621.1" x2="1791.16" y2="1650.1" stroke="#231f20" stroke-width="2.2"/>
<line x1="1810.93" y1="1621.1" x2="1810.93" y2="1650.1" stroke="#231f20" stroke-width="2.2"/>
<line x1="1830.7" y1="1621.1" x2="1830.7" y2="1650.1" stroke="#231f20" stroke-width="2.2"/>
<line x1="1850.47" y1="1621.1" x2="1850.47" y2="1650.1" stroke="#231f20" stroke-width="2.2"/>
<line x1="1639.2" y1="1470.4" x2="1432.7" y2="1586" stroke="#231f20" stroke-width="1.9" stroke-dasharray="19.5 8.3"/>
<line x1="1662.6" y1="1470.4" x2="1870.64" y2="1586" stroke="#231f20" stroke-width="1.9" stroke-dasharray="19.5 8.3"/>
<text x="-2.28" y="1902" font-size="57" textLength="34.19" lengthAdjust="spacingAndGlyphs">g</text>
<text x="242" y="1913.4" font-size="34" textLength="157" lengthAdjust="spacingAndGlyphs">AAV6 DNA</text>
<line x1="238.8" y1="1938.4" x2="238.8" y2="2078.3" stroke="#231f20" stroke-width="2.9"/>
<line x1="238.8" y1="2090" x2="238.8" y2="2210" stroke="#231f20" stroke-width="2.9"/>
<line x1="228.8" y1="2087.5" x2="246.1" y2="2071.4" stroke="#231f20" stroke-width="2.6"/>
<line x1="228.8" y1="2098" x2="246.1" y2="2081.9" stroke="#231f20" stroke-width="2.6"/>
<line x1="229.8" y1="1939.7" x2="238.8" y2="1939.7" stroke="#231f20" stroke-width="2.6"/>
<text x="226.3" y="1949.6" font-size="29.6" text-anchor="end" textLength="34.8" lengthAdjust="spacingAndGlyphs">20</text>
<line x1="229.8" y1="1994.2" x2="238.8" y2="1994.2" stroke="#231f20" stroke-width="2.6"/>
<text x="226.3" y="2004.1" font-size="29.6" text-anchor="end" textLength="34.8" lengthAdjust="spacingAndGlyphs">15</text>
<line x1="229.8" y1="2049.1" x2="238.8" y2="2049.1" stroke="#231f20" stroke-width="2.6"/>
<text x="226.3" y="2059" font-size="29.6" text-anchor="end" textLength="34.8" lengthAdjust="spacingAndGlyphs">10</text>
<line x1="229.8" y1="2116.8" x2="238.8" y2="2116.8" stroke="#231f20" stroke-width="2.6"/>
<text x="226.3" y="2126.7" font-size="29.6" text-anchor="end" textLength="42.4" lengthAdjust="spacingAndGlyphs">2.0</text>
<line x1="229.8" y1="2161.5" x2="238.8" y2="2161.5" stroke="#231f20" stroke-width="2.6"/>
<text x="226.3" y="2171.4" font-size="29.6" text-anchor="end" textLength="42.4" lengthAdjust="spacingAndGlyphs">1.0</text>
<line x1="229.8" y1="2208.7" x2="238.8" y2="2208.7" stroke="#231f20" stroke-width="2.6"/>
<text x="226.3" y="2218.6" font-size="29.6" text-anchor="end" textLength="17.4" lengthAdjust="spacingAndGlyphs">0</text>
<rect x="268.5" y="2188.4" width="61.5" height="21.3" fill="#231f20"/>
<rect x="336.5" y="2195.3" width="61.7" height="14.4" fill="#231f20"/>
<rect x="404.5" y="2197.2" width="61.5" height="12.5" fill="#231f20"/>
<rect x="472.5" y="2165.6" width="61.5" height="44.1" fill="#231f20"/>
<rect x="540.6" y="1960.1" width="61.4" height="249.6" fill="#231f20"/>
<polygon points="538.7,2111.6 603.1,2051 603.1,2066 538.7,2126.6" fill="#fff"/>
<line x1="229.8" y1="2208.7" x2="632.5" y2="2208.7" stroke="#231f20" stroke-width="2.9"/>
<line x1="277.5" y1="2180.7" x2="321.5" y2="2180.7" stroke="#231f20" stroke-width="2"/>
<line x1="299.5" y1="2180.7" x2="299.5" y2="2189" stroke="#231f20" stroke-width="2"/>
<line x1="346" y1="2192.4" x2="390" y2="2192.4" stroke="#231f20" stroke-width="2"/>
<line x1="368" y1="2192.4" x2="368" y2="2196" stroke="#231f20" stroke-width="2"/>
<line x1="413.5" y1="2190.8" x2="457.5" y2="2190.8" stroke="#231f20" stroke-width="2"/>
<line x1="435.5" y1="2190.8" x2="435.5" y2="2198" stroke="#231f20" stroke-width="2"/>
<line x1="548.9" y1="1943.7" x2="592.9" y2="1943.7" stroke="#231f20" stroke-width="2"/>
<line x1="570.9" y1="1943.7" x2="570.9" y2="1961" stroke="#231f20" stroke-width="2"/>
<g fill="#ed1c24"><circle cx="299.2" cy="2179.8" r="5.85"/><circle cx="285.9" cy="2189.5" r="5.85"/><circle cx="297" cy="2198" r="5.85"/><circle cx="310.2" cy="2201.3" r="5.85"/></g>
<g fill="#ed1c24"><circle cx="349.7" cy="2198.4" r="5.85"/><circle cx="361.2" cy="2201.3" r="5.85"/><circle cx="373.4" cy="2203.5" r="5.85"/><circle cx="385.2" cy="2201.3" r="5.85"/></g>
<g fill="#ed1c24"><circle cx="416.5" cy="2201.6" r="5.85"/><circle cx="428.5" cy="2194" r="5.85"/><circle cx="440.5" cy="2201.6" r="5.85"/><circle cx="451.7" cy="2204.4" r="5.85"/></g>
<g fill="#ed1c24"><circle cx="485.8" cy="2168.8" r="5.85"/><circle cx="497.8" cy="2168.8" r="5.85"/><circle cx="509.4" cy="2168.8" r="5.85"/><circle cx="521.4" cy="2168.8" r="5.85"/></g>
<g fill="#ed1c24"><circle cx="570.3" cy="1933.3" r="5.85"/><circle cx="579.9" cy="1954.9" r="5.85"/><circle cx="560.7" cy="1963.3" r="5.85"/><circle cx="570.3" cy="1997.4" r="5.85"/></g>
<text x="0" y="0" font-size="33" text-anchor="end" textLength="68.5" lengthAdjust="spacingAndGlyphs" transform="translate(311 2236) rotate(-45)">Lung</text>
<text x="0" y="0" font-size="33" text-anchor="end" textLength="97" lengthAdjust="spacingAndGlyphs" transform="translate(379 2236) rotate(-45)">Spleen</text>
<text x="0" y="0" font-size="33" text-anchor="end" textLength="94.5" lengthAdjust="spacingAndGlyphs" transform="translate(447 2236) rotate(-45)">Kidney</text>
<text x="0" y="0" font-size="33" text-anchor="end" textLength="65.5" lengthAdjust="spacingAndGlyphs" transform="translate(515 2236) rotate(-45)">Liver</text>
<text x="0" y="0" font-size="33" text-anchor="end" textLength="79" lengthAdjust="spacingAndGlyphs" transform="translate(583 2236) rotate(-45)">Heart</text>
<text x="0" y="0" font-size="33.5" textLength="203.5" lengthAdjust="spacingAndGlyphs" transform="translate(127.3 2172) rotate(-90)">AAV/18S DNA</text>
<text x="0" y="0" font-size="33.5" textLength="219.5" lengthAdjust="spacingAndGlyphs" transform="translate(163.6 2179.5) rotate(-90)">(fold over liver)</text>
<text x="726.62" y="1901.4" font-size="57" textLength="35.27" lengthAdjust="spacingAndGlyphs">h</text>
<text x="975.5" y="1913.4" font-size="34" textLength="251.7" lengthAdjust="spacingAndGlyphs">hsa-miR-199a-3p</text>
<line x1="971.6" y1="1938.4" x2="971.6" y2="2078.3" stroke="#231f20" stroke-width="2.9"/>
<line x1="971.6" y1="2090" x2="971.6" y2="2210" stroke="#231f20" stroke-width="2.9"/>
<line x1="961.6" y1="2087.5" x2="978.9" y2="2071.4" stroke="#231f20" stroke-width="2.6"/>
<line x1="961.6" y1="2098" x2="978.9" y2="2081.9" stroke="#231f20" stroke-width="2.6"/>
<line x1="962.6" y1="1939.7" x2="971.6" y2="1939.7" stroke="#231f20" stroke-width="2.6"/>
<text x="958.5" y="1949.6" font-size="29.6" text-anchor="end" textLength="34.8" lengthAdjust="spacingAndGlyphs">50</text>
<line x1="962.6" y1="1994.2" x2="971.6" y2="1994.2" stroke="#231f20" stroke-width="2.6"/>
<text x="958.5" y="2004.1" font-size="29.6" text-anchor="end" textLength="34.8" lengthAdjust="spacingAndGlyphs">40</text>
<line x1="962.6" y1="2049.1" x2="971.6" y2="2049.1" stroke="#231f20" stroke-width="2.6"/>
<text x="958.5" y="2059" font-size="29.6" text-anchor="end" textLength="34.8" lengthAdjust="spacingAndGlyphs">30</text>
<line x1="962.6" y1="2116.8" x2="971.6" y2="2116.8" stroke="#231f20" stroke-width="2.6"/>
<text x="958.5" y="2126.7" font-size="29.6" text-anchor="end" textLength="42.4" lengthAdjust="spacingAndGlyphs">2.0</text>
<line x1="962.6" y1="2161.5" x2="971.6" y2="2161.5" stroke="#231f20" stroke-width="2.6"/>
<text x="958.5" y="2171.4" font-size="29.6" text-anchor="end" textLength="42.4" lengthAdjust="spacingAndGlyphs">1.0</text>
<line x1="962.6" y1="2208.7" x2="971.6" y2="2208.7" stroke="#231f20" stroke-width="2.6"/>
<text x="958.5" y="2218.6" font-size="29.6" text-anchor="end" textLength="17.4" lengthAdjust="spacingAndGlyphs">0</text>
<rect x="1002.65" y="2175.95" width="58.9" height="32.6" fill="#fff" stroke="#231f20" stroke-width="2.3"/>
<rect x="1166.15" y="2198.85" width="58.7" height="9.7" fill="#fff" stroke="#231f20" stroke-width="2.3"/>
<rect x="1324.75" y="2183.85" width="59.2" height="24.7" fill="#fff" stroke="#231f20" stroke-width="2.3"/>
<rect x="1484.15" y="2162.45" width="58.9" height="46.1" fill="#fff" stroke="#231f20" stroke-width="2.3"/>
<rect x="1648.05" y="2171.85" width="59.2" height="36.7" fill="#fff" stroke="#231f20" stroke-width="2.3"/>
<rect x="1069" y="2195.2" width="62.2" height="14.5" fill="#231f20"/>
<rect x="1232.2" y="2165.4" width="62.2" height="44.3" fill="#231f20"/>
<rect x="1391" y="2195.2" width="62.2" height="14.5" fill="#231f20"/>
<rect x="1550.5" y="2186.4" width="61.8" height="23.3" fill="#231f20"/>
<rect x="1714.4" y="1976.1" width="62.1" height="233.6" fill="#231f20"/>
<polygon points="1713.4,2111.1 1777.5,2049.3 1777.5,2063.8 1713.4,2125.6" fill="#fff"/>
<line x1="962.6" y1="2208.7" x2="1812.6" y2="2208.7" stroke="#231f20" stroke-width="2.9"/>
<line x1="1010.3" y1="2165" x2="1054.3" y2="2165" stroke="#231f20" stroke-width="2"/>
<line x1="1032.3" y1="2165" x2="1032.3" y2="2175.5" stroke="#231f20" stroke-width="2"/>
<line x1="1077.8" y1="2189.6" x2="1121.8" y2="2189.6" stroke="#231f20" stroke-width="2"/>
<line x1="1099.8" y1="2189.6" x2="1099.8" y2="2196" stroke="#231f20" stroke-width="2"/>
<line x1="1173.5" y1="2191.1" x2="1217.5" y2="2191.1" stroke="#231f20" stroke-width="2"/>
<line x1="1195.5" y1="2191.1" x2="1195.5" y2="2198.5" stroke="#231f20" stroke-width="2"/>
<line x1="1241" y1="2157.5" x2="1285" y2="2157.5" stroke="#231f20" stroke-width="2"/>
<line x1="1263" y1="2157.5" x2="1263" y2="2166" stroke="#231f20" stroke-width="2"/>
<line x1="1332.3" y1="2172.9" x2="1376.3" y2="2172.9" stroke="#231f20" stroke-width="2"/>
<line x1="1354.3" y1="2172.9" x2="1354.3" y2="2183.5" stroke="#231f20" stroke-width="2"/>
<line x1="1399.5" y1="2189.6" x2="1443.5" y2="2189.6" stroke="#231f20" stroke-width="2"/>
<line x1="1421.5" y1="2189.6" x2="1421.5" y2="2196" stroke="#231f20" stroke-width="2"/>
<line x1="1559.9" y1="2176.1" x2="1603.9" y2="2176.1" stroke="#231f20" stroke-width="2"/>
<line x1="1581.9" y1="2176.1" x2="1581.9" y2="2187" stroke="#231f20" stroke-width="2"/>
<line x1="1655.6" y1="2154.4" x2="1699.6" y2="2154.4" stroke="#231f20" stroke-width="2"/>
<line x1="1677.6" y1="2154.4" x2="1677.6" y2="2171.5" stroke="#231f20" stroke-width="2"/>
<line x1="1723.1" y1="1951" x2="1767.1" y2="1951" stroke="#231f20" stroke-width="2"/>
<line x1="1745.1" y1="1951" x2="1745.1" y2="1977" stroke="#231f20" stroke-width="2"/>
<g fill="#ed1c24"><circle cx="1339.6" cy="2180.2" r="5.85"/><circle cx="1348.1" cy="2188.6" r="5.85"/><circle cx="1361.6" cy="2191.1" r="5.85"/><circle cx="1371" cy="2182.7" r="5.85"/></g>
<g fill="#ed1c24"><circle cx="1405.5" cy="2195.2" r="5.85"/><circle cx="1418.7" cy="2199" r="5.85"/><circle cx="1431.2" cy="2198.4" r="5.85"/><circle cx="1443.2" cy="2195.2" r="5.85"/></g>
<g fill="#ed1c24"><circle cx="1497.2" cy="2162.3" r="5.85"/><circle cx="1508.8" cy="2162.3" r="5.85"/><circle cx="1520.1" cy="2162.3" r="5.85"/><circle cx="1531.7" cy="2162.3" r="5.85"/></g>
<g fill="#ed1c24"><circle cx="1591.9" cy="2166" r="5.85"/><circle cx="1566.2" cy="2178.6" r="5.85"/><circle cx="1583.5" cy="2182.7" r="5.85"/><circle cx="1582.8" cy="2196.5" r="5.85"/></g>
<g fill="#ed1c24"><circle cx="1671.4" cy="2155" r="5.85"/><circle cx="1683.9" cy="2168.2" r="5.85"/><circle cx="1671.4" cy="2181.1" r="5.85"/><circle cx="1683.3" cy="2189.6" r="5.85"/></g>
<g fill="#ed1c24"><circle cx="1745.1" cy="1941" r="5.85"/><circle cx="1745.1" cy="1963.6" r="5.85"/><circle cx="1745.1" cy="1981.5" r="5.85"/><circle cx="1745.1" cy="2014.7" r="5.85"/></g>
<g fill="#ed1c24"><circle cx="1032.3" cy="2166" r="5.85"/><circle cx="1021.3" cy="2173.9" r="5.85"/><circle cx="1044.2" cy="2179.5" r="5.85"/><circle cx="1032.3" cy="2185.8" r="5.85"/></g>
<g fill="#ed1c24"><circle cx="1100.7" cy="2192.7" r="5.85"/><circle cx="1087.2" cy="2202.1" r="5.85"/><circle cx="1099.8" cy="2203.7" r="5.85"/><circle cx="1113.3" cy="2199" r="5.85"/></g>
<g fill="#ed1c24"><circle cx="1178.9" cy="2203.7" r="5.85"/><circle cx="1190.8" cy="2199" r="5.85"/><circle cx="1203.4" cy="2203.7" r="5.85"/><circle cx="1215.3" cy="2199" r="5.85"/></g>
<g fill="#ed1c24"><circle cx="1263" cy="2162.3" r="5.85"/><circle cx="1252" cy="2170.1" r="5.85"/><circle cx="1274" cy="2170.1" r="5.85"/><circle cx="1263" cy="2176.4" r="5.85"/></g>
<text x="0" y="0" font-size="33" text-anchor="end" textLength="68.5" lengthAdjust="spacingAndGlyphs" transform="translate(1077 2236) rotate(-45)">Lung</text>
<text x="0" y="0" font-size="33" text-anchor="end" textLength="97" lengthAdjust="spacingAndGlyphs" transform="translate(1240 2236) rotate(-45)">Spleen</text>
<text x="0" y="0" font-size="33" text-anchor="end" textLength="94.5" lengthAdjust="spacingAndGlyphs" transform="translate(1400 2236) rotate(-45)">Kidney</text>
<text x="0" y="0" font-size="33" text-anchor="end" textLength="65.5" lengthAdjust="spacingAndGlyphs" transform="translate(1561 2236) rotate(-45)">Liver</text>
<text x="0" y="0" font-size="33" text-anchor="end" textLength="79" lengthAdjust="spacingAndGlyphs" transform="translate(1724 2236) rotate(-45)">Heart</text>
<text x="0" y="0" font-size="34.5" textLength="250.5" lengthAdjust="spacingAndGlyphs" transform="translate(827.6 2195.5) rotate(-90)">miR-199a-3p/5S RNA</text>
<text x="0" y="0" font-size="34.5" textLength="196.5" lengthAdjust="spacingAndGlyphs" transform="translate(863.4 2169) rotate(-90)">(fold over liver in</text>
<text x="0" y="0" font-size="34.5" textLength="169.5" lengthAdjust="spacingAndGlyphs" transform="translate(900 2156) rotate(-90)">AAV6-Control)</text>
<rect x="1812.55" y="1906.75" width="26.8" height="26.2" fill="#fff" stroke="#231f20" stroke-width="2.5"/>
<rect x="1812" y="1949.5" width="28" height="27.5" fill="#231f20"/>
<text x="1852" y="1929.6" font-size="34.3" textLength="204.5" lengthAdjust="spacingAndGlyphs">AAV6-Control</text>
<text x="1852" y="1974.2" font-size="34.3" textLength="233.5" lengthAdjust="spacingAndGlyphs">AAV6-miR-199a</text>
</svg>
</body></html>
